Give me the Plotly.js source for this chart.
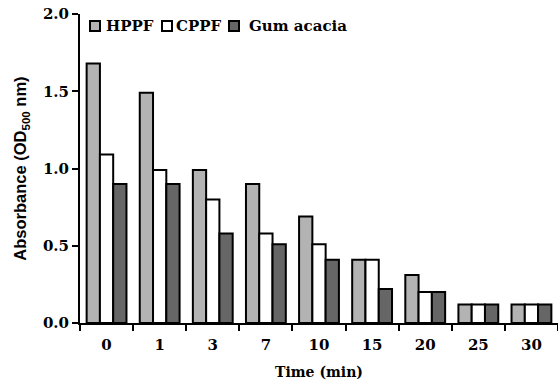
<!DOCTYPE html>
<html>
<head>
<meta charset="utf-8">
<script src="https://cdn.plot.ly/plotly-3.0.1.min.js"></script>
<style>html,body{margin:0;padding:0;background:#fff;}#chart{width:558px;height:385px;}</style>
</head>
<body>
<div id="chart"></div>
<script>
var categories = ["0", "1", "3", "7", "10", "15", "20", "25", "30"];
var seriesNames = ["HPPF", "CPPF", "Gum acacia"];
var hppf = [1.68, 1.49, 0.99, 0.90, 0.69, 0.41, 0.31, 0.12, 0.12];
var cppf = [1.09, 0.99, 0.80, 0.58, 0.51, 0.41, 0.20, 0.12, 0.12];
var gum  = [0.90, 0.90, 0.58, 0.51, 0.41, 0.22, 0.20, 0.12, 0.12];
var yTicks = [0, 0.5, 1.0, 1.5, 2.0];
var yTickText = ["0.0", "0.5", "1.0", "1.5", "2.0"];

var colors = ["#b3b3b3", "#ffffff", "#666666"];
var serif = "DejaVu Serif, serif";
var sans = "Liberation Sans, Arial, sans-serif";
var M = {l: 80, r: 0, t: 14, b: 62};
var W = 558, H = 385;
var pw = W - M.l - M.r, ph = H - M.t - M.b;
function px2x(p) { return (p - M.l) / pw; }
function py2y(p) { return (H - M.b - p) / ph; }

function bar(i, y) {
  return {type: "bar", name: seriesNames[i], x: categories, y: y, showlegend: false,
    marker: {color: colors[i], line: {color: "#000", width: 2}}};
}
var data = [bar(0, hppf), bar(1, cppf), bar(2, gum)];

// custom legend (swatch left edge, text left edge, in pixels)
var legendPos = [[90, 104], [162, 174], [229, 247]];
var shapes = [], annotations = [];
legendPos.forEach(function (p, i) {
  shapes.push({type: "rect", xref: "paper", yref: "paper",
    x0: px2x(p[0]), x1: px2x(p[0] + 10), y0: py2y(31), y1: py2y(21),
    fillcolor: colors[i], line: {color: "#000", width: 2}});
  annotations.push({xref: "paper", yref: "paper", x: px2x(p[1]), y: py2y(26),
    xanchor: "left", yanchor: "middle", showarrow: false, text: seriesNames[i],
    font: {family: serif, size: 15, color: "#000", weight: "bold"}});
});

var layout = {
  width: W, height: H,
  margin: M,
  paper_bgcolor: "#fff", plot_bgcolor: "#fff",
  barmode: "group", bargap: 0.25, bargroupgap: 0,
  font: {family: serif, size: 15, color: "#000", weight: "bold"},
  showlegend: false,
  shapes: shapes, annotations: annotations,
  xaxis: {type: "category", tickson: "boundaries", ticks: "outside", ticklen: 6, tickwidth: 2,
    tickcolor: "#000", showline: true, linecolor: "#000", linewidth: 2, showgrid: false, zeroline: false,
    ticklabelstandoff: 7,
    tickfont: {family: serif, size: 15, weight: "bold"},
    title: {text: "Time (min)", font: {family: serif, size: 14, weight: "bold"}, standoff: 14}},
  yaxis: {range: [0, 2], tickvals: yTicks, ticktext: yTickText, ticks: "outside", ticklen: 6, tickwidth: 2,
    tickcolor: "#000", showline: true, linecolor: "#000", linewidth: 2, showgrid: false, zeroline: false,
    tickfont: {family: serif, size: 15, weight: "bold"},
    title: {text: "Absorbance (OD<sub>500</sub> nm)", font: {family: sans, size: 16.5, weight: "bold"}, standoff: 12}}
};
Plotly.newPlot("chart", data, layout, {displayModeBar: false, staticPlot: true});
</script>
</body>
</html>
